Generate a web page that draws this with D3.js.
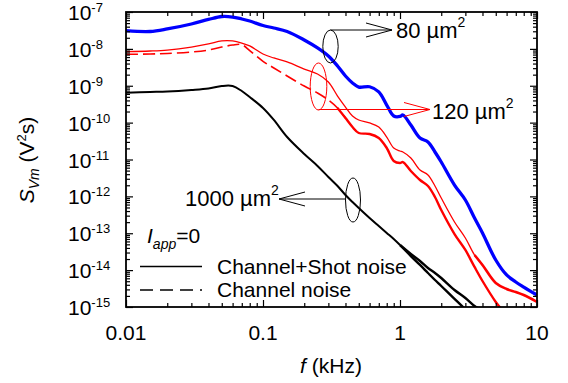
<!DOCTYPE html>
<html><head><meta charset="utf-8">
<script src="https://cdn.jsdelivr.net/npm/d3@7"></script>
<style>body{margin:0;background:#fff}svg{display:block}text{font-family:Arial,"Liberation Sans",sans-serif;fill:#000}</style>
</head><body>
<svg id="c" width="568" height="383"></svg>
<script>
// ---- data (f in kHz, S in V^2 s) ----
const freq = [0.01,0.015,0.02,0.03,0.04,0.05,0.06,0.07,0.08,0.1,0.12,0.15,0.2,0.25,0.3,0.35,0.4,0.45,0.5,0.6,0.7,0.8,0.9,1.0,1.05,1.2,1.4,1.6,1.8,2,2.5,3,3.5,4,5,6,7,8,10];
const blue80 = [3.11e-8,2.96e-8,3.46e-8,4.73e-8,6.27e-8,7.55e-8,7.31e-8,6.46e-8,5.70e-8,4.31e-8,3.68e-8,2.96e-8,1.74e-8,1.06e-8,6.4e-9,3.43e-9,1.84e-9,1.19e-9,9.2e-10,9.4e-10,6.8e-10,3.0e-10,1.51e-10,1.47e-10,1.61e-10,8.6e-11,3.83e-11,2.99e-11,1.60e-11,8.55e-12,2.03e-12,7.98e-13,2.59e-13,1.02e-13,1.88e-14,7.4e-15,4.77e-15,3.48e-15,2.11e-15];
const red120Total = [8.37e-9,8.75e-9,9.3e-9,1.12e-8,1.36e-8,1.64e-8,1.64e-8,1.44e-8,1.20e-8,7.26e-9,5.66e-9,4.41e-9,2.84e-9,2.08e-9,1.26e-9,5.27e-10,2.65e-10,1.51e-10,1.18e-10,9.8e-11,7.6e-11,4.07e-11,2.05e-11,1.70e-11,1.60e-11,1.10e-11,5.19e-12,3.80e-12,1.91e-12,9.0e-13,2.02e-13,7.43e-14,2.57e-14,1.38e-14,4.48e-15,3.08e-15,2.55e-15,2.11e-15,1.37e-15];
const red120ChanF = [0.01,0.015,0.02,0.03,0.04,0.05,0.06,0.07,0.08,0.1,0.12,0.15,0.2,0.25,0.3,0.35,0.4,0.45,0.5,0.6,0.7,0.8,0.9,1.0,1.05,1.2,1.4,1.6,1.8,2,2.5,3,3.5,4,5,5.4];
const red120Chan = [7.13e-9,7.26e-9,7.5e-9,8.23e-9,9.3e-9,1.12e-8,1.27e-8,1.3e-8,9.0e-9,4.6e-9,3.03e-9,1.84e-9,9.8e-10,6.36e-10,4.11e-10,2.49e-10,1.33e-10,7.6e-11,5.24e-11,4.92e-11,3.83e-11,2.05e-11,9.1e-12,8.03e-12,8.5e-12,4.88e-12,2.78e-12,1.91e-12,9.6e-13,4.27e-13,9.5e-14,3.52e-14,1.22e-14,5.07e-15,1.37e-15,9.5e-16];
const blackF = [0.01,0.015,0.02,0.03,0.04,0.05,0.06,0.07,0.08,0.1,0.12,0.15,0.2,0.25,0.3,0.35,0.4,0.45,0.5,0.6,0.7,0.8,0.9,1.0];
const black1000 = [6.49e-10,6.78e-10,6.99e-10,7.67e-10,8.42e-10,9.84e-10,9.84e-10,7.2e-10,4.95e-10,2.49e-10,1.18e-10,4.07e-11,1.41e-11,6.67e-12,3.35e-12,1.91e-12,1.09e-12,7.03e-13,4.84e-13,2.59e-13,1.57e-13,1.02e-13,6.98e-14,4.80e-14];
const blackTotalTailF = [1.0,1.2,1.4,1.6,1.8,2,2.5,3,3.5,3.7];
const blackTotalTail = [4.80e-14,2.74e-14,1.77e-14,1.14e-14,8.36e-15,6.11e-15,2.89e-15,1.75e-15,1.06e-15,9.4e-16];
const blackChanTailF = [1.0,1.2,1.4,1.6,1.8,2,2.5,2.9];
const blackChanTail = [4.80e-14,2.41e-14,1.38e-14,8.36e-15,5.40e-15,3.71e-15,1.65e-15,9.8e-16];
const xMajor = [0.01,0.1,1,10];
const xMajorLabels = ["0.01","0.1","1","10"];
const yExponents = [-7,-8,-9,-10,-11,-12,-13,-14,-15];

// ---- layout ----
const L=126,R=537,T=12,B=307;
const svg=d3.select("#c");
const x=d3.scaleLog().domain([0.01,10]).range([L,R]);
const y=d3.scaleLog().domain([1e-15,1e-7]).range([B,T]);
const zip=(f,s)=>f.map((v,i)=>({f:v,s:s[i]}));

svg.append("clipPath").attr("id","clip").append("rect").attr("x",L).attr("y",T).attr("width",R-L).attr("height",B-T);
const g=svg.append("g").attr("clip-path","url(#clip)");
const line=d3.line().x(d=>x(d.f)).y(d=>y(d.s)).curve(d3.curveCatmullRom.alpha(0.5));
function draw(data,color,w,dash){
  g.append("path").datum(data).attr("d",line).attr("fill","none").attr("stroke",color)
   .attr("stroke-width",w).attr("stroke-linejoin","round").attr("stroke-dasharray",dash||null);
}
// blue
draw(zip(freq,blue80),"#0000ff",3.3);
// red channel+shot (solid)
const rt=zip(freq,red120Total);
draw(rt.filter(d=>d.f<=4),"#ff0000",1.3);
draw(rt.filter(d=>d.f>=3.5),"#ff0000",2.6);
// red channel (dashed)
const rc=zip(red120ChanF,red120Chan);
draw(rc.filter(d=>d.f<=0.4),"#ff0000",1.6,"12,5");
draw(rc.filter(d=>d.f>=0.35),"#ff0000",2.4);
// black
const bk=zip(blackF,black1000);
draw(bk,"#000",2);
draw(zip(blackTotalTailF,blackTotalTail),"#000",2.4);
draw(zip(blackChanTailF,blackChanTail),"#000",2.4);

// ---- axes ----
const xMinor=[];[0.01,0.1,1].forEach(d=>{for(let k=2;k<=9;k++)xMinor.push(d*k);});
const yMajor=yExponents.map(e=>Math.pow(10,e));
const yMinor=[];for(let e=-15;e<-7;e++){for(let k=2;k<=9;k++)yMinor.push(k*Math.pow(10,e));}
function ax(gen,tx,ty,vals,size){
  const a=svg.append("g").attr("transform",`translate(${tx},${ty})`)
   .call(gen.tickValues(vals).tickSize(size).tickFormat(""));
  a.select(".domain").remove();
  a.selectAll("line").attr("stroke","#000").attr("stroke-width",1.2);
}
ax(d3.axisBottom(x),0,B,xMajor,-7);ax(d3.axisBottom(x),0,B,xMinor,-4);
ax(d3.axisTop(x),0,T,xMajor,-7);ax(d3.axisTop(x),0,T,xMinor,-4);
ax(d3.axisLeft(y),L,0,yMajor,-7);ax(d3.axisLeft(y),L,0,yMinor,-4);
ax(d3.axisRight(y),R,0,yMajor,-7);ax(d3.axisRight(y),R,0,yMinor,-4);
svg.append("rect").attr("x",L).attr("y",T).attr("width",R-L).attr("height",B-T)
  .attr("fill","none").attr("stroke","#000").attr("stroke-width",1.8);

// tick labels
xMajor.forEach((v,i)=>{
  svg.append("text").attr("x",x(v)).attr("y",340).attr("text-anchor","middle")
    .attr("font-size",21).text(xMajorLabels[i]);
});
yExponents.forEach(e=>{
  const t=svg.append("text").attr("x",68).attr("y",y(Math.pow(10,e))+8).attr("font-size",21);
  t.append("tspan").text("10");
  t.append("tspan").attr("dy",-8).attr("font-size",13).text(String(e));
});

// axis titles
const xt=svg.append("text").attr("x",331).attr("y",373).attr("text-anchor","middle").attr("font-size",21);
xt.append("tspan").attr("font-style","italic").text("f");
xt.append("tspan").text(" (kHz)");
const yt=svg.append("text").attr("transform","translate(34,160) rotate(-90)").attr("text-anchor","middle").attr("font-size",21);
yt.append("tspan").attr("font-style","italic").text("S");
yt.append("tspan").attr("font-style","italic").attr("font-size",14).attr("dy",5).text("Vm");
yt.append("tspan").attr("dy",-5).text(" (V");
yt.append("tspan").attr("font-size",13).attr("dy",-8).text("2");
yt.append("tspan").attr("dy",8).text("s)");

// annotations
function ell(cx,cy,rx,ry,c){svg.append("ellipse").attr("cx",cx).attr("cy",cy).attr("rx",rx).attr("ry",ry).attr("fill","none").attr("stroke",c).attr("stroke-width",1);}
function arrow(x1,y1,x2,c){
  svg.append("line").attr("x1",x1).attr("y1",y1).attr("x2",x2).attr("y2",y1).attr("stroke",c).attr("stroke-width",1);
  const d=x2>x1?-26:26;
  svg.append("path").attr("d",`M${x2+d},${y1-7}L${x2},${y1}L${x2+d},${y1+7}`).attr("fill","none").attr("stroke",c).attr("stroke-width",1);
}
function areaLabel(px,py,num,c,anchor){
  const t=svg.append("text").attr("x",px).attr("y",py).attr("font-size",22).attr("fill",c).attr("text-anchor",anchor||"start");
  t.append("tspan").text(num+" \u00b5m");
  t.append("tspan").attr("dy",-11).attr("font-size",14).text("2");
}
ell(330.5,46.5,7.7,16.5,"#000"); arrow(330.5,30,392,"#000"); areaLabel(396,38,"80","#000");
ell(318.5,86.5,8.3,23.5,"#ff0000"); arrow(318.5,109.5,430,"#ff0000"); areaLabel(432,119,"120","#ff0000");
ell(353,200,7.5,22,"#000"); arrow(345.5,199,279,"#000"); areaLabel(185,206,"1000","#000");

// I_app = 0 and legend
const ia=svg.append("text").attr("x",147).attr("y",243).attr("font-size",21);
ia.append("tspan").attr("font-style","italic").text("I");
ia.append("tspan").attr("font-style","italic").attr("font-size",14).attr("dy",6).text("app");
ia.append("tspan").attr("dy",-6).text("=0");
svg.append("line").attr("x1",140).attr("x2",202).attr("y1",266.5).attr("y2",266.5).attr("stroke","#000").attr("stroke-width",1.6);
svg.append("line").attr("x1",140).attr("x2",202).attr("y1",290).attr("y2",290).attr("stroke","#000").attr("stroke-width",1.6).attr("stroke-dasharray","13,7");
svg.append("text").attr("x",217).attr("y",274).attr("font-size",21).text("Channel+Shot noise");
svg.append("text").attr("x",217).attr("y",297).attr("font-size",21).text("Channel noise");
</script>
</body></html>
